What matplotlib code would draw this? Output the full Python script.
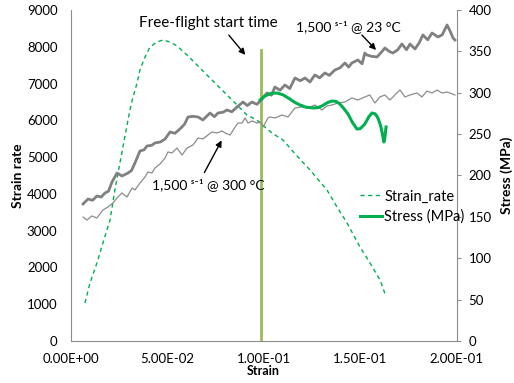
import matplotlib
matplotlib.use("Agg")
import matplotlib.pyplot as plt
from matplotlib.ticker import FuncFormatter

plt.rcParams["font.family"] = ["Lato", "DejaVu Sans"]
plt.rcParams["font.size"] = 9

# strain rate (left axis)
rate_strain = [0.0074, 0.0100, 0.0136, 0.0167, 0.0204, 0.0229, 0.0255, 0.0307, 0.0323,
               0.0344, 0.0359, 0.0385, 0.0411, 0.0447, 0.0478, 0.0515, 0.0551, 0.0603,
               0.0655, 0.0706, 0.0758, 0.0810, 0.0862, 0.0913, 0.0965, 0.1006, 0.1043,
               0.1100, 0.1168, 0.1240, 0.1328, 0.1380, 0.1432, 0.1499, 0.1551, 0.1603,
               0.1629]
strain_rate = [1033, 1577, 2121, 2665, 3290, 4106, 4840, 6281, 6634,
               7015, 7368, 7722, 7994, 8130, 8184, 8130, 8021, 7776,
               7504, 7232, 6960, 6689, 6417, 6145, 6009, 5819, 5655,
               5465, 5057, 4650, 4106, 3643, 3208, 2556, 2121, 1659,
               1278]

# stress (right axis), green smoothed curve
stress_strain = [0.0982, 0.1006, 0.1035, 0.1069, 0.1100, 0.1136, 0.1160, 0.1188, 0.1220,
                 0.1256, 0.1280, 0.1302, 0.1330, 0.1354, 0.1375, 0.1395, 0.1415, 0.1437,
                 0.1460, 0.1483, 0.1500, 0.1524, 0.1545, 0.1561, 0.1578, 0.1592, 0.1605,
                 0.1613, 0.1620, 0.1623, 0.1628, 0.1634]
stress = [291.2, 296.0, 299.0, 299.7, 297.5, 292.4, 288.5, 285.2, 282.5,
          281.6, 282.0, 284.0, 288.0, 290.0, 289.5, 286.4, 281.0, 274.3,
          264.0, 256.2, 256.5, 262.2, 271.0, 275.5, 274.5, 269.5, 261.0,
          252.6, 244.0, 240.5, 246.0, 258.6]

# 1,500 /s @ 23 C (thick grey)
hot23_strain = [0.0064, 0.0090, 0.0113, 0.0136, 0.0158, 0.0178, 0.0196, 0.0214, 0.0240,
                0.0266, 0.0297, 0.0315, 0.0333, 0.0359, 0.0380, 0.0395, 0.0420, 0.0437,
                0.0465, 0.0489, 0.0515, 0.0540, 0.0566, 0.0590, 0.0608, 0.0635, 0.0660,
                0.0685, 0.0722, 0.0745, 0.0763, 0.0790, 0.0810, 0.0835, 0.0862, 0.0893,
                0.0915, 0.0939, 0.0965, 0.0991, 0.1017, 0.1040, 0.1058, 0.1085, 0.1110,
                0.1135, 0.1162, 0.1190, 0.1214, 0.1240, 0.1265, 0.1290, 0.1317, 0.1340,
                0.1369, 0.1395, 0.1421, 0.1440, 0.1457, 0.1488, 0.1510, 0.1524, 0.1535,
                0.1560, 0.1587, 0.1610, 0.1628, 0.1650, 0.1670, 0.1695, 0.1716, 0.1740,
                0.1758, 0.1784, 0.1805, 0.1825, 0.1850, 0.1872, 0.1903, 0.1925, 0.1950,
                0.1965, 0.1981, 0.1991]
hot23 = [165.6, 171.6, 170.0, 175.2, 174.0, 178.9, 181.0, 192.1, 203.0,
         199.4, 203.0, 206.0, 215.1, 229.6, 231.0, 235.6, 236.5, 239.3,
         240.5, 244.1, 252.6, 251.0, 256.2, 262.0, 270.7, 271.5, 270.7,
         267.1, 275.5, 271.0, 275.5, 276.5, 279.2, 277.0, 282.8, 288.8,
         284.5, 288.8, 286.0, 292.4, 299.7, 297.0, 306.9, 303.0, 309.4,
         305.0, 317.8, 314.5, 317.8, 313.0, 321.5, 318.0, 323.9, 321.0,
         327.5, 330.0, 336.0, 331.0, 336.0, 339.6, 335.0, 348.0, 345.6,
         344.0, 343.2, 349.0, 354.1, 350.0, 348.0, 352.0, 358.9, 352.0,
         358.9, 352.9, 360.0, 369.8, 364.0, 372.2, 367.4, 370.0, 381.9,
         375.0, 366.2, 363.7]

# 1,500 /s @ 300 C (thin grey)
hot300_strain = [0.0064, 0.0084, 0.0110, 0.0136, 0.0167, 0.0193, 0.0219, 0.0240, 0.0266,
                 0.0292, 0.0318, 0.0333, 0.0359, 0.0385, 0.0400, 0.0421, 0.0437, 0.0463,
                 0.0489, 0.0504, 0.0525, 0.0551, 0.0577, 0.0603, 0.0634, 0.0660, 0.0685,
                 0.0711, 0.0732, 0.0758, 0.0784, 0.0800, 0.0826, 0.0852, 0.0867, 0.0888,
                 0.0903, 0.0919, 0.0940, 0.0966, 0.0985, 0.0997, 0.1022, 0.1033, 0.1059,
                 0.1095, 0.1126, 0.1162, 0.1198, 0.1229, 0.1265, 0.1302, 0.1328, 0.1354,
                 0.1385, 0.1421, 0.1457, 0.1488, 0.1524, 0.1550, 0.1576, 0.1602, 0.1628,
                 0.1654, 0.1690, 0.1706, 0.1732, 0.1758, 0.1794, 0.1820, 0.1846, 0.1872,
                 0.1898, 0.1924, 0.1950, 0.1991]
hot300 = [149.8, 146.2, 151.1, 148.6, 158.3, 161.9, 166.8, 172.8, 178.9,
          174.0, 184.9, 182.5, 190.9, 198.2, 204.2, 203.0, 209.1, 213.9,
          221.1, 228.4, 227.2, 233.2, 224.8, 233.2, 236.9, 245.3, 244.1,
          248.9, 252.6, 251.4, 253.8, 251.4, 248.9, 258.6, 263.4, 263.4,
          269.5, 263.4, 265.9, 263.4, 264.7, 258.6, 269.5, 270.7, 269.5,
          273.1, 270.7, 281.6, 282.8, 281.6, 285.2, 279.2, 284.0, 285.2,
          287.6, 288.8, 293.7, 291.2, 294.9, 297.3, 287.6, 294.9, 297.3,
          291.2, 299.7, 303.3, 294.9, 297.3, 299.7, 294.9, 302.1, 299.7,
          303.3, 299.7, 300.9, 297.3]

free_flight_strain = 0.0984
free_flight_top = 7900

axis_grey = "#8c8c8c"

fig = plt.figure(figsize=(5.14, 3.83), dpi=100)
ax1 = fig.add_axes([0.1375, 0.1097, 0.751, 0.8642])
ax2 = ax1.twinx()

ax1.plot(rate_strain, strain_rate, "--", color="#00b050", lw=1.0, dashes=(3, 2.5),
         label="Strain_rate", zorder=2)
ax1.plot([free_flight_strain, free_flight_strain], [0, free_flight_top],
         color="#9bbb59", lw=2.0, zorder=3)

ax2.plot(hot23_strain, hot23, color="#808080", lw=2.0, zorder=2)
ax2.plot(hot300_strain, hot300, color="#8c8c8c", lw=0.9, zorder=2)
ax2.plot(stress_strain, stress, color="#00b050", lw=2.2, label="Stress (MPa)", zorder=4)

ax1.set_xlim(0, 0.2)
ax1.set_ylim(0, 9000)
ax2.set_ylim(0, 400)
ax1.set_xticks([0, 0.05, 0.1, 0.15, 0.2])
ax1.xaxis.set_major_formatter(FuncFormatter(lambda v, p: f"{v:.2E}"))
ax1.set_yticks(range(0, 9001, 1000))
ax2.set_yticks(range(0, 401, 50))

for ax in (ax1, ax2):
    ax.spines["top"].set_visible(False)
    for s in ("left", "right", "bottom"):
        ax.spines[s].set_color(axis_grey)
ax1.spines["right"].set_visible(False)
ax2.spines["left"].set_visible(False)
ax2.spines["bottom"].set_visible(False)

ax1.tick_params(axis="y", length=0, pad=9.5, labelsize=9.5)
ax1.tick_params(axis="x", length=0, pad=8.5, labelsize=9.5)
ax2.tick_params(axis="y", length=3, width=0.8, color=axis_grey, pad=5.5, labelsize=9.5)

ax1.set_xlabel("Strain", fontweight="bold", fontsize=9, labelpad=0)
ax1.set_ylabel("Strain rate", fontweight="bold", fontsize=10, labelpad=2)
ax2.set_ylabel("Stress (MPa)", fontweight="bold", fontsize=10, labelpad=6)

arrow = dict(arrowstyle="-|>", color="black", lw=1.0, mutation_scale=9)
ax1.text(0.0711, 8647, "Free-flight start time", ha="center", va="center", fontsize=11)
ax1.annotate("", xy=(0.0914, 7722), xytext=(0.0810, 8375), arrowprops=arrow)
ax1.text(0.1437, 8538, "1,500 ˢ⁻¹ @ 23 °C", ha="center", va="center", fontsize=10)
ax1.annotate("", xy=(0.1592, 7858), xytext=(0.1499, 8375), arrowprops=arrow)
ax1.text(0.0712, 4242, "1,500 ˢ⁻¹ @ 300 °C", ha="center", va="center", fontsize=10)
ax1.annotate("", xy=(0.0789, 5520), xytext=(0.0686, 4514), arrowprops=arrow)

h1, l1 = ax1.get_legend_handles_labels()
h2, l2 = ax2.get_legend_handles_labels()
ax2.legend(h1 + h2, l1 + l2, loc="upper left", bbox_to_anchor=(0.735, 0.475),
           frameon=False, fontsize=10.5, handlelength=1.5, handletextpad=0.15,
           labelspacing=0.4, borderaxespad=0)

fig.savefig("out.png", dpi=100)
